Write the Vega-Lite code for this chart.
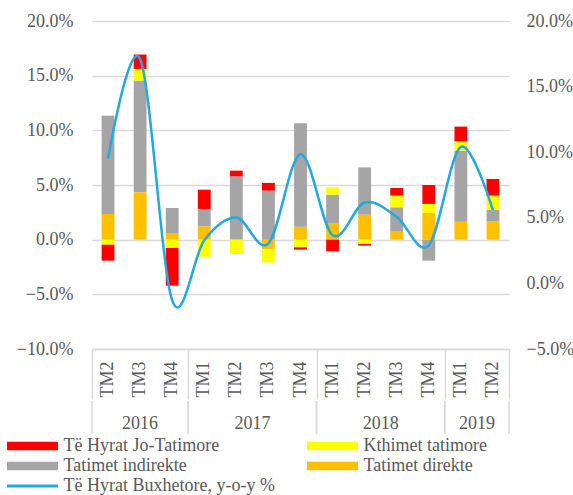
{
  "$schema": "https://vega.github.io/schema/vega-lite/v6.json",
  "padding": {"left": 5, "top": 12, "right": 0, "bottom": 0},
  "spacing": 0,
  "config": {
    "view": {"stroke": null},
    "font": "Liberation Serif",
    "axis": {"labelFont": "Liberation Serif", "labelFontSize": 18, "labelColor": "#595959", "title": null},
    "legend": {"labelFont": "Liberation Serif", "labelFontSize": 18, "labelColor": "#595959"}
  },
  "datasets": {
    "bars": [
      {"period": "2016 TM2", "series": "Tatimet direkte", "k": 1, "value": 2.35},
      {"period": "2016 TM2", "series": "Tatimet indirekte", "k": 2, "value": 8.99},
      {"period": "2016 TM2", "series": "Kthimet tatimore", "k": 3, "value": -0.46},
      {"period": "2016 TM2", "series": "Të Hyrat Jo-Tatimore", "k": 4, "value": -1.46},
      {"period": "2016 TM3", "series": "Tatimet direkte", "k": 1, "value": 4.33},
      {"period": "2016 TM3", "series": "Tatimet indirekte", "k": 2, "value": 10.22},
      {"period": "2016 TM3", "series": "Kthimet tatimore", "k": 3, "value": 1.07},
      {"period": "2016 TM3", "series": "Të Hyrat Jo-Tatimore", "k": 4, "value": 1.31},
      {"period": "2016 TM4", "series": "Tatimet direkte", "k": 1, "value": 0.61},
      {"period": "2016 TM4", "series": "Tatimet indirekte", "k": 2, "value": 2.29},
      {"period": "2016 TM4", "series": "Kthimet tatimore", "k": 3, "value": -0.76},
      {"period": "2016 TM4", "series": "Të Hyrat Jo-Tatimore", "k": 4, "value": -3.45},
      {"period": "2017 TM1", "series": "Tatimet direkte", "k": 1, "value": 1.22},
      {"period": "2017 TM1", "series": "Tatimet indirekte", "k": 2, "value": 1.59},
      {"period": "2017 TM1", "series": "Kthimet tatimore", "k": 3, "value": -1.56},
      {"period": "2017 TM1", "series": "Të Hyrat Jo-Tatimore", "k": 4, "value": 1.76},
      {"period": "2017 TM2", "series": "Tatimet direkte", "k": 1, "value": 0.0},
      {"period": "2017 TM2", "series": "Tatimet indirekte", "k": 2, "value": 5.79},
      {"period": "2017 TM2", "series": "Kthimet tatimore", "k": 3, "value": -1.31},
      {"period": "2017 TM2", "series": "Të Hyrat Jo-Tatimore", "k": 4, "value": 0.52},
      {"period": "2017 TM3", "series": "Tatimet direkte", "k": 1, "value": -0.85},
      {"period": "2017 TM3", "series": "Tatimet indirekte", "k": 2, "value": 4.48},
      {"period": "2017 TM3", "series": "Kthimet tatimore", "k": 3, "value": -1.23},
      {"period": "2017 TM3", "series": "Të Hyrat Jo-Tatimore", "k": 4, "value": 0.71},
      {"period": "2017 TM4", "series": "Tatimet direkte", "k": 1, "value": 1.19},
      {"period": "2017 TM4", "series": "Tatimet indirekte", "k": 2, "value": 9.45},
      {"period": "2017 TM4", "series": "Kthimet tatimore", "k": 3, "value": -0.7},
      {"period": "2017 TM4", "series": "Të Hyrat Jo-Tatimore", "k": 4, "value": -0.21},
      {"period": "2018 TM1", "series": "Tatimet direkte", "k": 1, "value": 1.53},
      {"period": "2018 TM1", "series": "Tatimet indirekte", "k": 2, "value": 2.59},
      {"period": "2018 TM1", "series": "Kthimet tatimore", "k": 3, "value": 0.66},
      {"period": "2018 TM1", "series": "Të Hyrat Jo-Tatimore", "k": 4, "value": -1.07},
      {"period": "2018 TM2", "series": "Tatimet direkte", "k": 1, "value": 2.29},
      {"period": "2018 TM2", "series": "Tatimet indirekte", "k": 2, "value": 4.32},
      {"period": "2018 TM2", "series": "Kthimet tatimore", "k": 3, "value": -0.39},
      {"period": "2018 TM2", "series": "Të Hyrat Jo-Tatimore", "k": 4, "value": -0.16},
      {"period": "2018 TM3", "series": "Tatimet direkte", "k": 1, "value": 0.73},
      {"period": "2018 TM3", "series": "Tatimet indirekte", "k": 2, "value": 2.23},
      {"period": "2018 TM3", "series": "Kthimet tatimore", "k": 3, "value": 1.07},
      {"period": "2018 TM3", "series": "Të Hyrat Jo-Tatimore", "k": 4, "value": 0.7},
      {"period": "2018 TM4", "series": "Tatimet direkte", "k": 1, "value": 2.44},
      {"period": "2018 TM4", "series": "Tatimet indirekte", "k": 2, "value": -1.92},
      {"period": "2018 TM4", "series": "Kthimet tatimore", "k": 3, "value": 0.83},
      {"period": "2018 TM4", "series": "Të Hyrat Jo-Tatimore", "k": 4, "value": 1.73},
      {"period": "2019 TM1", "series": "Tatimet direkte", "k": 1, "value": 1.65},
      {"period": "2019 TM1", "series": "Tatimet indirekte", "k": 2, "value": 6.49},
      {"period": "2019 TM1", "series": "Kthimet tatimore", "k": 3, "value": 0.85},
      {"period": "2019 TM1", "series": "Të Hyrat Jo-Tatimore", "k": 4, "value": 1.35},
      {"period": "2019 TM2", "series": "Tatimet direkte", "k": 1, "value": 1.65},
      {"period": "2019 TM2", "series": "Tatimet indirekte", "k": 2, "value": 1.09},
      {"period": "2019 TM2", "series": "Kthimet tatimore", "k": 3, "value": 1.29},
      {"period": "2019 TM2", "series": "Të Hyrat Jo-Tatimore", "k": 4, "value": 1.52}
    ],
    "line": [
      {"period": "2016 TM2", "series": "Të Hyrat Buxhetore, y-o-y %", "value": 9.52},
      {"period": "2016 TM3", "series": "Të Hyrat Buxhetore, y-o-y %", "value": 17.1},
      {"period": "2016 TM4", "series": "Të Hyrat Buxhetore, y-o-y %", "value": -1.3},
      {"period": "2017 TM1", "series": "Të Hyrat Buxhetore, y-o-y %", "value": 3.29},
      {"period": "2017 TM2", "series": "Të Hyrat Buxhetore, y-o-y %", "value": 5.02},
      {"period": "2017 TM3", "series": "Të Hyrat Buxhetore, y-o-y %", "value": 3.04},
      {"period": "2017 TM4", "series": "Të Hyrat Buxhetore, y-o-y %", "value": 9.85},
      {"period": "2018 TM1", "series": "Të Hyrat Buxhetore, y-o-y %", "value": 3.67},
      {"period": "2018 TM2", "series": "Të Hyrat Buxhetore, y-o-y %", "value": 6.17},
      {"period": "2018 TM3", "series": "Të Hyrat Buxhetore, y-o-y %", "value": 5.07},
      {"period": "2018 TM4", "series": "Të Hyrat Buxhetore, y-o-y %", "value": 2.9},
      {"period": "2019 TM1", "series": "Të Hyrat Buxhetore, y-o-y %", "value": 10.4},
      {"period": "2019 TM2", "series": "Të Hyrat Buxhetore, y-o-y %", "value": 5.58}
    ],
    "years": [
      {"year": "2016", "b": 0}, {"year": "2016", "b": 3},
      {"year": "2017", "b": 3}, {"year": "2017", "b": 7},
      {"year": "2018", "b": 7}, {"year": "2018", "b": 11},
      {"year": "2019", "b": 11}, {"year": "2019", "b": 13}
    ]
  },
  "resolve": {"scale": {"x": "independent"}},
  "vconcat": [
    {
      "width": 417,
      "height": 328,
      "layer": [
        {
          "layer": [
            {
              "data": {"name": "bars"},
              "mark": {"type": "bar"},
              "encoding": {
                "x": {
                  "field": "period", "type": "nominal",
                  "scale": {"domain": ["2016 TM2","2016 TM3","2016 TM4","2017 TM1","2017 TM2","2017 TM3","2017 TM4","2018 TM1","2018 TM2","2018 TM3","2018 TM4","2019 TM1","2019 TM2"], "paddingInner": 0.6, "paddingOuter": 0.3},
                  "axis": {
                    "orient": "bottom",
                    "labelExpr": "split(datum.value, ' ')[1]",
                    "labelAngle": 270,
                    "ticks": false,
                    "labelPadding": 12,
                    "domainColor": "#D9D9D9",
                    "domainWidth": 1.5,
                    "grid": false
                  }
                },
                "y": {
                  "field": "value", "type": "quantitative", "stack": "zero",
                  "scale": {"domain": [-10, 20], "nice": false},
                  "axis": {
                    "values": [-10, -5, 0, 5, 10, 15, 20],
                    "labelExpr": "format(datum.value, '.1f') + '%'",
                    "grid": true, "gridColor": "#D9D9D9", "gridWidth": 1.5,
                    "domain": false, "ticks": false,
                    "labelPadding": 19, "minExtent": 87
                  }
                },
                "color": {
                  "field": "series", "type": "nominal",
                  "scale": {
                    "domain": ["Të Hyrat Jo-Tatimore", "Kthimet tatimore", "Tatimet indirekte", "Tatimet direkte", "Të Hyrat Buxhetore, y-o-y %"],
                    "range": ["#FF0000", "#FFFF00", "#A5A5A5", "#FFC000", "#22A9E1"]
                  },
                  "legend": {
                    "title": null,
                    "orient": "none",
                    "legendX": -69.5,
                    "legendY": 415,
                    "direction": "horizontal",
                    "columns": 2,
                    "columnPadding": 31,
                    "rowPadding": 1,
                    "symbolSize": 400,
                    "symbolType": "M-2.55,-0.43h5.1v0.86h-5.1z",
                    "symbolStrokeWidth": 0,
                    "labelOffset": 21,
                    "labelLimit": 400,
                    "encode": {
                      "symbols": {
                        "update": {
                          "shape": {"signal": "datum.value === 'Të Hyrat Buxhetore, y-o-y %' ? 'M-2.55,-0.15h5.1v0.3h-5.1z' : 'M-2.55,-0.43h5.1v0.86h-5.1z'"},
                          "fill": {"scale": "color", "field": "value"},
                          "stroke": {"value": "transparent"},
                          "opacity": {"value": 1}
                        }
                      }
                    }
                  }
                },
                "order": {"field": "k", "type": "quantitative"}
              }
            },
            {
              "data": {"name": "line"},
              "mark": {"type": "line", "interpolate": "cardinal", "strokeWidth": 2.5},
              "encoding": {
                "x": {"field": "period", "type": "nominal"},
                "y": {
                  "field": "value", "type": "quantitative",
                  "scale": {"domain": [-5, 20], "nice": false},
                  "axis": {
                    "orient": "right",
                    "values": [-5, 0, 5, 10, 15, 20],
                    "labelExpr": "format(datum.value, '.1f') + '%'",
                    "grid": false, "domain": false, "ticks": false,
                    "labelPadding": 17
                  }
                },
                "color": {"field": "series", "type": "nominal"}
              }
            }
          ],
          "resolve": {"scale": {"y": "independent"}}
        },
        {
          "data": {"name": "years"},
          "mark": {"type": "point", "opacity": 0},
          "encoding": {
            "x": {
              "field": "b", "type": "quantitative",
              "scale": {"domain": [0, 13], "nice": false, "zero": false},
              "axis": {
                "orient": "bottom",
                "values": [0, 3, 7, 11, 13],
                "labels": false,
                "domain": false,
                "grid": false,
                "ticks": true,
                "tickSize": 50,
                "tickWidth": 1.5,
                "tickColor": "#D9D9D9"
              }
            }
          }
        }
      ],
      "resolve": {"scale": {"x": "independent"}, "axis": {"x": "independent"}}
    },
    {
      "width": 417,
      "height": 33,
      "data": {"name": "years"},
      "layer": [
        {
          "mark": {"type": "rule", "color": "#D9D9D9", "strokeWidth": 1.5},
          "encoding": {
            "x": {"field": "b", "type": "quantitative", "scale": {"domain": [0, 13], "nice": false, "zero": false}, "axis": null}
          }
        },
        {
          "mark": {"type": "text", "fontSize": 18, "color": "#595959", "font": "Liberation Serif", "dy": 6},
          "encoding": {
            "x": {"aggregate": "mean", "field": "b", "type": "quantitative", "axis": null},
            "text": {"field": "year", "type": "nominal"}
          }
        }
      ]
    }
  ]
}
